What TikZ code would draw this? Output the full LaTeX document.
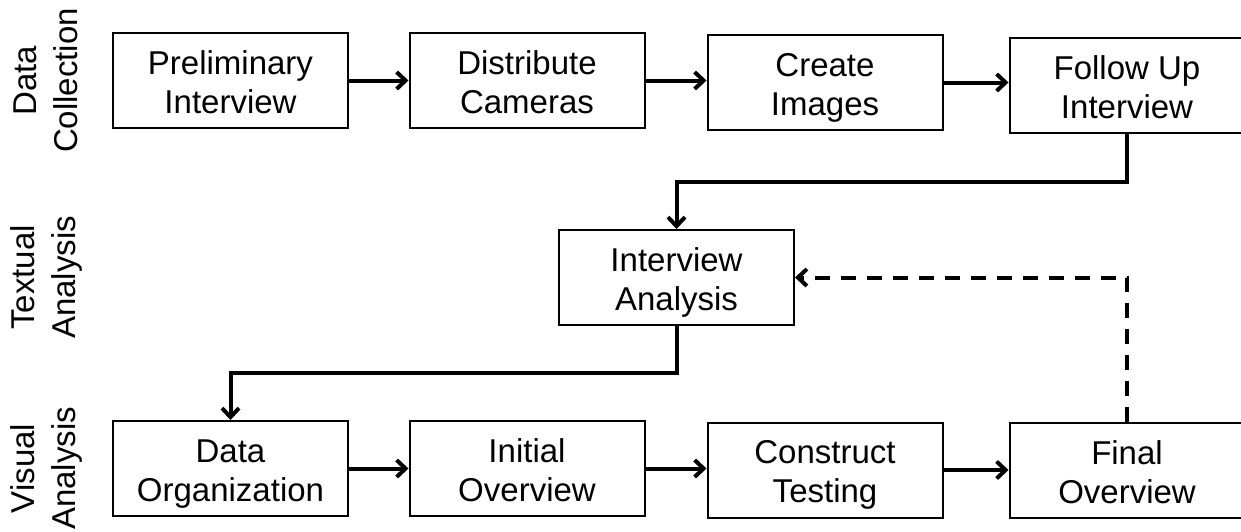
\documentclass[tikz,border=0pt]{standalone}
\usepackage{fontspec}
\setmainfont{Liberation Sans}
\usetikzlibrary{arrows.meta}
\tikzset{
  stage/.style={draw, line width=2pt, minimum width=235pt, minimum height=95pt,
    inner sep=0pt, align=center, font=\fontsize{33}{39}\selectfont,
    text height=65.6pt, text depth=0pt},
  phase/.style={rotate=90, align=center, inner sep=0pt,
    font=\fontsize{33}{41}\selectfont},
  flow/.style={line width=4pt, -{Straight Barb[length=9pt,width=17pt]}},
  feedback/.style={flow, dash pattern=on 15pt off 11pt},
}
\begin{document}
\begin{tikzpicture}[x=1pt,y=-1pt]
\useasboundingbox (0,0) rectangle (1241,531);
\clip (0,0) rectangle (1241,531);

% phase labels
\node[phase] (lc) at (46,80.5)  {Data\\Collection};
\node[phase] (lt) at (46,277.5) {Textual\\Analysis};
\node[phase] (lv) at (46,468.5) {Visual\\Analysis};

% data collection
\node[stage] (pi) at (230.5,80.5) {Preliminary\\Interview};
\node[stage] (dc) at (527,80.5)   {Distribute\\Cameras};
\node[stage] (ci) at (825,82.5)   {Create\\Images};
\node[stage] (fu) at (1127,85.5)  {Follow Up\\Interview};

% textual analysis
\node[stage] (ia) at (676.5,277.5) {Interview\\Analysis};

% visual analysis
\node[stage] (do) at (230.5,468.5) {Data\\Organization};
\node[stage] (io) at (527,468.5)   {Initial\\Overview};
\node[stage] (ct) at (825,470)     {Construct\\Testing};
\node[stage] (fo) at (1127,470.5)  {Final\\Overview};

\coordinate (j1) at (0,182);
\coordinate (j2) at (0,373);

\draw[flow] (pi.east) -- (dc.west);
\draw[flow] (dc.east) -- (ci.west |- dc.east);
\draw[flow] (ci.east) -- (fu.west |- ci.east);
\draw[flow] (fu.south) -- (fu.south |- j1) -- (ia.north |- j1) -- (ia.north);
\draw[flow] (ia.south) -- (ia.south |- j2) -- (do.north |- j2) -- (do.north);
\draw[flow] (do.east) -- (io.west);
\draw[flow] (io.east) -- (ct.west |- io.east);
\draw[flow] (ct.east) -- (fo.west |- ct.east);
\draw[feedback] (fo.north) -- (fo.north |- ia.east) -- (ia.east);
\end{tikzpicture}
\end{document}
